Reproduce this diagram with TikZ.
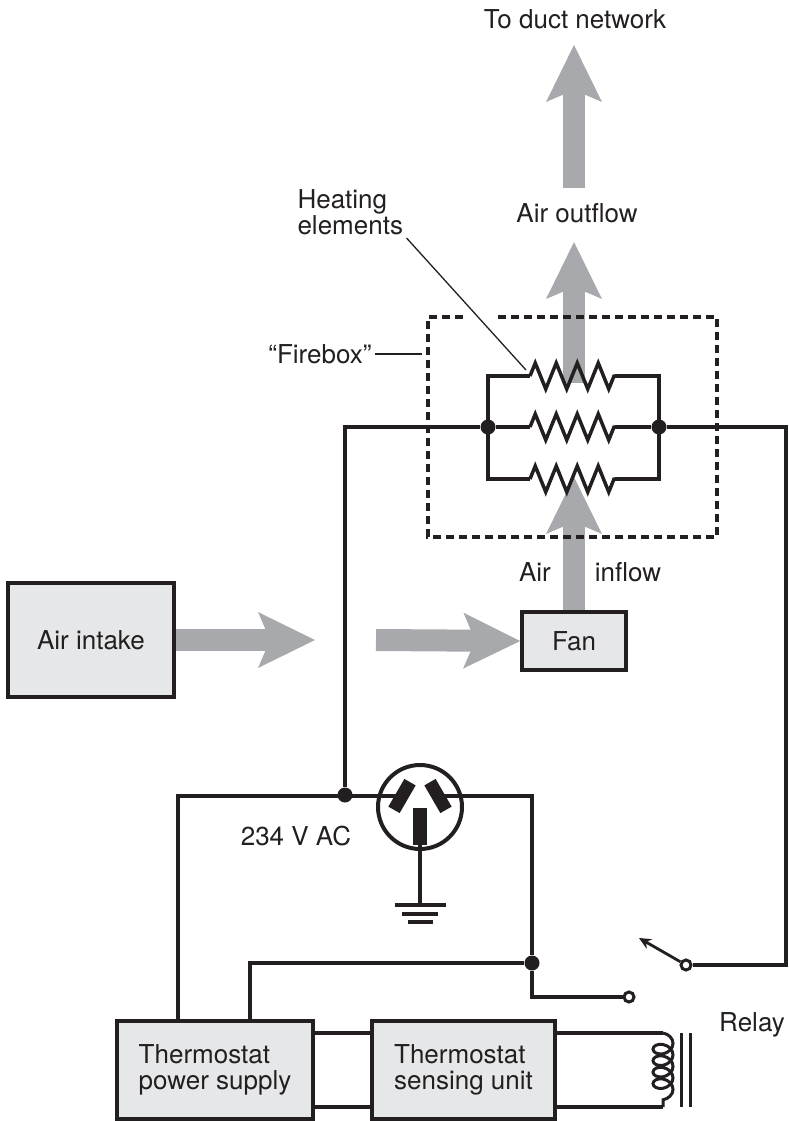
\documentclass[tikz,border=0pt]{standalone}
\usepackage{fontspec}
\setmainfont{TeX Gyre Heros}
\usetikzlibrary{arrows.meta, decorations.pathmorphing, positioning}
\definecolor{airgray}{HTML}{A7A9AC}
\definecolor{boxgray}{HTML}{E6E7E8}
\definecolor{ink}{HTML}{231F20}
\tikzset{airflow/.style={draw=airgray, line width=22pt, -{Stealth[length=57pt, width=56pt, inset=12pt, line width=0pt]}}}
\tikzset{heater/.style={decoration={zigzag, amplitude=13pt, segment length=21pt}, decorate}}
\tikzset{relaycoil/.style={decoration={coil, aspect=0.75, amplitude=10pt, segment length=11.5pt}, decorate}}
\tikzset{wire/.style={draw=ink, line width=3.5pt}, leader/.style={draw=ink, line width=1.3pt}}
\tikzset{unit/.style={draw=ink, line width=3.5pt, fill=boxgray, inner sep=0pt, align=left}}
\tikzset{junction/.style={circle, fill=ink, inner sep=0pt, minimum size=15pt}}
\tikzset{contact/.style={circle, draw=ink, fill=white, line width=3pt, inner sep=0pt, minimum size=10pt}}
\tikzset{prong/.style={fill=ink, inner sep=0pt, minimum width=13pt, minimum height=32pt}}
\tikzset{firewall/.style={draw=ink, line width=3.5pt, dash pattern=on 8pt off 5pt}}

\begin{document}
\begin{tikzpicture}[x=1pt, y=-1pt, font=\fontsize{26}{26}\selectfont, text=ink]
            \useasboundingbox (0,0) rectangle (788,1121);
            % boxes
            \node[unit, minimum width=166pt, minimum height=114pt] (intake) at (91,640) {Air intake};
            \node[unit, minimum width=104pt, minimum height=58pt] (fan) at (574,641) {Fan};
            \node[unit, minimum width=196pt, minimum height=98pt] (supply) at (215,1070) {Thermostat\\power supply};
            \node[unit, minimum width=183pt, minimum height=98pt] (sensor) at (463.5,1070) {Thermostat\\sensing unit};
            % labels
            \node (duct) at (575,19) {To duct network};
            \node (outflow) at (577,213) {Air outflow};
            \node (airword) at (535,572) {Air};
            \node (inflow) at (628,572) {inflow};
            \node (voltage) at (296,836) {234 V AC};
            \node (relay) at (752,1025) {Relay};
            \node[anchor=east] (firebox) at (375,354) {“Firebox”};
            \node[anchor=west, align=left, font=\fontsize{26}{23}\selectfont] (heating) at (294,212) {Heating\\elements};
            % air path
            \coordinate (ducttail) at (574,188);
            \coordinate (ducttip) at (574,45);
            \coordinate (outtail) at (574,383);
            \coordinate (outtip) at (574,242);
            \coordinate (intip) at (574,477);
            \coordinate (gapL) at (315,640);
            \coordinate (gapR) at (376,640);
            \draw[airflow] (ducttail) -- (ducttip);
            \draw[airflow] (outtail) -- (outtip);
            \draw[airflow] (fan.north) -- (intip);
            \draw[airflow] (intake.east) -- (gapL);
            \draw[airflow] (gapR) -- (fan.west);
            % firebox
            \draw[firewall] (498,317) -- (717,317) -- (717,537) -- (428,537) -- (428,317) -- (467,317);
            \coordinate (firewallL) at (422,354);
            \coordinate (toptap) at (526,370);
            \draw[leader] (firebox.east) -- (firewallL);
            \draw[leader] (heating.south east) -- (toptap);
            % heating elements
            \node[junction] (jl) at (488,427) {};
            \node[junction] (jr) at (659,427) {};
            \foreach \y in {376,427,479}
                \draw[wire, heater] (530,\y) -- (615,\y);
            \draw[wire] (530,376) -| (488,479) -- (530,479);
            \draw[wire] (615,376) -| (659,479) -- (615,479);
            \draw[wire] (jl) -- (530,427);
            \draw[wire] (615,427) -- (jr);
            % outlet
            \node[circle, draw=ink, line width=4pt, minimum size=84pt, inner sep=0pt] (outlet) at (420,807) {};
            \node[prong, rotate=-30] (lprong) at (402,796) {};
            \node[prong, rotate=30] (rprong) at (438,796) {};
            \node[prong, minimum width=14pt, minimum height=37pt] (gprong) at (420,826) {};
            \coordinate (earth) at (420,905);
            \draw[wire] (gprong.center) -- (earth);
            \foreach \dy/\hw in {0/25.5, 9/18, 17/12.5}
                \draw[ink, line width=3.5pt] (420-\hw,905+\dy) -- (420+\hw,905+\dy);
            % mains and control wiring
            \node[junction] (jmain) at (345,795) {};
            \node[junction] (jctl) at (532,963) {};
            \node[contact] (upper) at (686,965) {};
            \node[contact] (lower) at (629,997) {};
            \coordinate (feedA) at (178,1021);
            \coordinate (feedB) at (250,1021);
            \coordinate (armtip) at (639,938);
            \draw[wire] (feedA) |- (lprong.center);
            \draw[wire] (jmain) |- (jl);
            \draw[wire] (jr) -- (786,427) |- (upper);
            \draw[wire] (rprong.center) -| (jctl);
            \draw[wire] (jctl) |- (lower);
            \draw[wire] (jctl) -| (feedB);
            \draw[wire, line width=2.8pt, -{Stealth[length=12pt, width=11pt]}] (upper) -- (armtip);
            % relay coil
            \coordinate (coiltop) at (663,1033);
            \coordinate (coilbot) at (663,1107);
            \draw[wire] ([yshift=37pt]supply.east) -- ([yshift=37pt]sensor.west);
            \draw[wire] ([yshift=-37pt]supply.east) -- ([yshift=-37pt]sensor.west);
            \draw[wire] ([yshift=37pt]sensor.east) -- (coiltop);
            \draw[wire] ([yshift=-37pt]sensor.east) -- (coilbot);
            \draw[ink, line width=3pt, relaycoil] (coiltop) -- (coilbot);
            \draw[ink, line width=3pt] (681,1033) -- (681,1107);
            \draw[ink, line width=3pt] (690,1033) -- (690,1107);
        \end{tikzpicture}
\end{document}
